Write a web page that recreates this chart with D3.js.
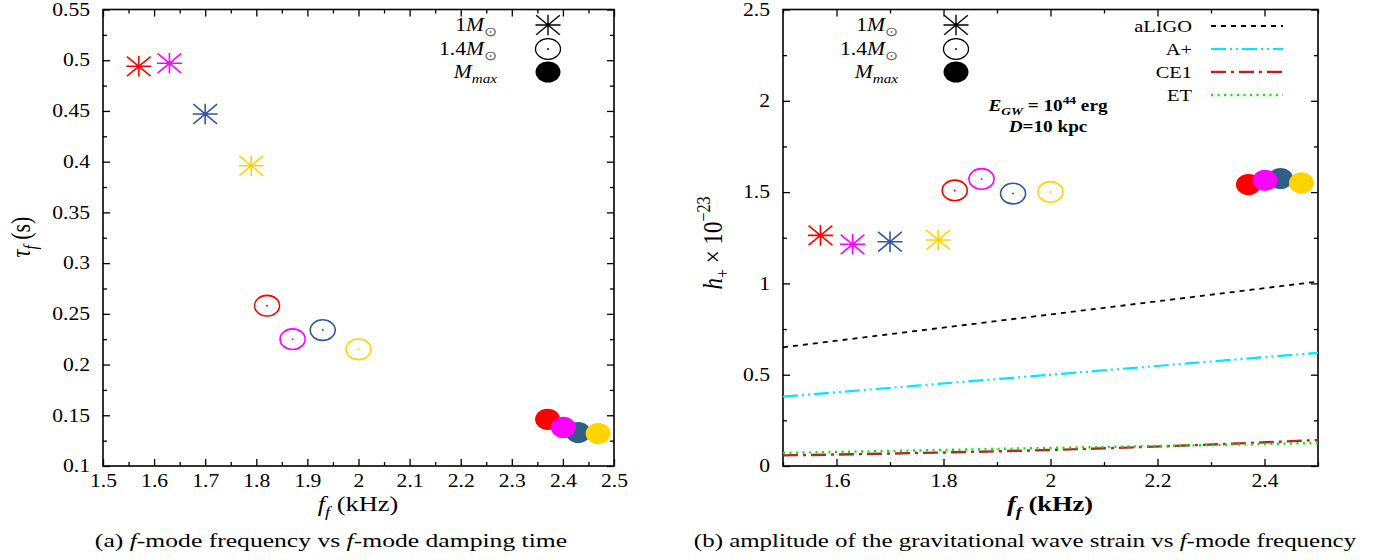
<!DOCTYPE html>
<html>
<head>
<meta charset="utf-8">
<script src="https://cdn.jsdelivr.net/npm/d3@7"></script>
<style>
  body { margin: 0; background: #fff; }
  svg { display: block; }
  text { font-family: "Liberation Serif", "Times New Roman", serif; fill: #000; }
</style>
</head>
<body>
<svg id="fig" width="1395" height="560"></svg>
<script>
// ---- data ---------------------------------------------------------------
// one entry per equation of state (same order in every array)
const eosStroke = ["#ff0000", "#ff00ff", "#3556a5", "#ffd400"];
const eosFill   = ["#ff0000", "#ff00ff", "#2f5f82", "#ffd400"];

// f-mode frequency (kHz) for 1 Msun, 1.4 Msun and maximum-mass stars
const freq1   = [1.570, 1.630, 1.700, 1.790];
const freq14  = [1.821, 1.871, 1.930, 2.000];
const freqMax = [2.370, 2.401, 2.430, 2.469];

// damping time (s)
const tau1   = [0.494, 0.497, 0.447, 0.396];
const tau14  = [0.258, 0.225, 0.234, 0.215];
const tauMax = [0.146, 0.138, 0.133, 0.132];

// strain amplitude (x 1e-23)
const h1   = [1.263, 1.214, 1.228, 1.238];
const h14  = [1.509, 1.572, 1.492, 1.501];
const hMax = [1.541, 1.565, 1.574, 1.550];

// detector sensitivity curves (x 1e-23)
const detFreq = [1.5, 1.75, 2.0, 2.25, 2.5];
const aLIGO   = [0.650, 0.740, 0.830, 0.920, 1.010];
const aPlus   = [0.380, 0.440, 0.500, 0.560, 0.620];
const ce1     = [0.058, 0.071, 0.088, 0.112, 0.142];
const et      = [0.072, 0.085, 0.099, 0.112, 0.126];

// tick values
const tauXTicks = [1.5, 1.6, 1.7, 1.8, 1.9, 2.0, 2.1, 2.2, 2.3, 2.4, 2.5];
const tauYTicks = [0.1, 0.15, 0.2, 0.25, 0.3, 0.35, 0.4, 0.45, 0.5, 0.55];
const hXTicks = [1.6, 1.8, 2.0, 2.2, 2.4];
const hYTicks = [0, 0.5, 1, 1.5, 2, 2.5];

// ---- helpers ------------------------------------------------------------
const SX = 1.2;             // horizontal text stretch of the figure
const RX = 12.5, RY = 10.3; // marker half width / half height
const svg = d3.select("#fig");

function rich(parent, x, y, size, parts, anchor = "start", rotate = false) {
  const t = parent.append("text")
    .attr("font-size", size)
    .attr("text-anchor", anchor)
    .attr("transform", rotate
      ? `translate(${x},${y}) rotate(-90) scale(1,${SX})`
      : `translate(${x},${y}) scale(${SX},1)`);
  let shift = 0;
  parts.forEach(p => {
    const target = p.sub ? size * 0.25 : p.sup ? -size * 0.42 : 0;
    const ts = t.append("tspan").text(p.t).attr("dy", target - shift);
    shift = target;
    if (p.sub || p.sup) ts.attr("font-size", size * 0.7);
    if (p.i) ts.attr("font-style", "italic");
    if (p.b) ts.attr("font-weight", "bold");
    if (p.fill) ts.style("fill", p.fill);
  });
  return t;
}

function fitWidth(sel, width) {
  const w = sel.node().getComputedTextLength();
  const m = /translate\(([^)]+)\)/.exec(sel.attr("transform"));
  sel.attr("transform", `translate(${m[1]}) scale(${width / w},1)`);
}

function starPath(cx, cy) {
  const d = 0.95;
  return `M${cx - RX},${cy}H${cx + RX}M${cx},${cy - RY}V${cy + RY}` +
         `M${cx - RX * d},${cy - RY * d}L${cx + RX * d},${cy + RY * d}` +
         `M${cx - RX * d},${cy + RY * d}L${cx + RX * d},${cy - RY * d}`;
}

function minorBetween(values, step) {
  const out = [];
  for (let i = 0; i < values.length - 1; i++) {
    for (let v = values[i] + step; v < values[i + 1] - step / 2; v += step) out.push(+v.toFixed(4));
  }
  return out;
}

function frame(g, x, y, xMajor, xMinor, yMajor, yMinor, xFmt, yFmt) {
  const [xl, xr] = x.range();
  const [yb, yt] = y.range();
  const majorLen = 7, minorLen = 4;
  const axes = [
    [d3.axisBottom, yb, x, xMajor, xMinor, true, "x"],
    [d3.axisTop,    yt, x, xMajor, xMinor, false, "x"],
    [d3.axisLeft,   xl, y, yMajor, yMinor, true, "y"],
    [d3.axisRight,  xr, y, yMajor, yMinor, false, "y"]
  ];
  axes.forEach(([make, pos, sc, major, minor, labelled, dir]) => {
    const tr = dir === "x" ? `translate(0,${pos})` : `translate(${pos},0)`;
    const fmt = labelled ? (dir === "x" ? xFmt : yFmt) : () => "";
    const ga = g.append("g").attr("transform", tr)
      .call(make(sc).tickValues(major).tickSizeInner(-majorLen).tickSizeOuter(0)
        .tickPadding(dir === "x" ? 8 : 13).tickFormat(fmt));
    ga.select(".domain").remove();
    ga.selectAll(".tick line").attr("stroke", "#000").attr("stroke-width", 1.3);
    ga.selectAll(".tick text")
      .attr("font-size", 18)
      .attr("font-family", "Liberation Serif, serif")
      .attr("fill", "#000")
      .each(function () {
        const xa = this.getAttribute("x");
        if (xa !== null) this.setAttribute("x", +xa / SX);
      })
      .attr("transform", `scale(${SX},1)`);
    const gm = g.append("g").attr("transform", tr)
      .call(make(sc).tickValues(minor).tickSizeInner(-minorLen).tickSizeOuter(0).tickFormat(() => ""));
    gm.select(".domain").remove();
    gm.selectAll(".tick line").attr("stroke", "#000").attr("stroke-width", 1.3);
  });
  g.append("rect")
    .attr("x", xl).attr("y", yt).attr("width", xr - xl).attr("height", yb - yt)
    .attr("fill", "none").attr("stroke", "#000").attr("stroke-width", 1.6);
}

function drawMarkers(g, x, y, f1, v1, f14, v14, fMax, vMax) {
  const idx = d3.range(f1.length);
  // 1 Msun : asterisks
  g.append("g").selectAll("path").data(idx).join("path")
    .attr("d", i => starPath(x(f1[i]), y(v1[i])))
    .attr("stroke", i => eosStroke[i]).attr("stroke-width", 1.6).attr("fill", "none");
  // 1.4 Msun : open circles with a centre dot
  const c = g.append("g").selectAll("g").data(idx).join("g");
  c.append("ellipse")
    .attr("cx", i => x(f14[i])).attr("cy", i => y(v14[i]))
    .attr("rx", RX).attr("ry", RY)
    .attr("fill", "none").attr("stroke", i => eosStroke[i]).attr("stroke-width", 1.6);
  c.append("circle")
    .attr("cx", i => x(f14[i])).attr("cy", i => y(v14[i])).attr("r", 1)
    .attr("fill", i => eosStroke[i]);
  // maximum mass : filled discs (third model drawn underneath)
  g.append("g").selectAll("ellipse").data([2, 0, 1, 3]).join("ellipse")
    .attr("cx", i => x(fMax[i])).attr("cy", i => y(vMax[i]))
    .attr("rx", RX).attr("ry", RY + 0.3)
    .attr("fill", i => eosFill[i]);
}

function massLegend(g, labelX, markX, rows) {
  rich(g, labelX, rows[0] + 6, 18, [{ t: "1" }, { t: "M", i: true }, { t: "⊙", sub: true, fill: "#555" }], "end");
  rich(g, labelX, rows[1] + 6, 18, [{ t: "1.4" }, { t: "M", i: true }, { t: "⊙", sub: true, fill: "#555" }], "end");
  rich(g, labelX, rows[2] + 6, 18, [{ t: "M", i: true }, { t: "max", i: true, sub: true }], "end");
  g.append("path").attr("d", starPath(markX, rows[0]))
    .attr("stroke", "#000").attr("stroke-width", 1.4).attr("fill", "none");
  g.append("ellipse").attr("cx", markX).attr("cy", rows[1]).attr("rx", RX).attr("ry", RY)
    .attr("fill", "none").attr("stroke", "#000").attr("stroke-width", 1.3);
  g.append("circle").attr("cx", markX).attr("cy", rows[1]).attr("r", 0.9).attr("fill", "#000");
  g.append("ellipse").attr("cx", markX).attr("cy", rows[2]).attr("rx", RX).attr("ry", RY + 0.3)
    .attr("fill", "#000");
}

// ---- (a) damping time vs frequency ---------------------------------------
const ga = svg.append("g");
const xA = d3.scaleLinear().domain([1.5, 2.5]).range([103, 614]);
const yA = d3.scaleLinear().domain([0.1, 0.55]).range([466, 9.5]);
frame(ga, xA, yA, tauXTicks, minorBetween(tauXTicks, 0.05), tauYTicks, minorBetween(tauYTicks, 0.025),
      d => d3.format("")(+d.toFixed(2)), d => d3.format("")(+d.toFixed(2)));
drawMarkers(ga, xA, yA, freq1, tau1, freq14, tau14, freqMax, tauMax);
massLegend(ga, 497, 548, [25, 49, 72]);

rich(ga, 30, 237, 22, [{ t: "τ", i: true }, { t: "f", i: true, sub: true }, { t: " (s)" }], "middle", true);
rich(ga, 358, 511, 22, [{ t: "f", i: true }, { t: "f", i: true, sub: true }, { t: " (kHz)" }], "middle");
fitWidth(rich(ga, 331, 547, 19,
  [{ t: "(a) " }, { t: "f", i: true }, { t: "-mode frequency vs " }, { t: "f", i: true }, { t: "-mode damping time" }],
  "middle"), 472);

// ---- (b) strain amplitude vs frequency -----------------------------------
const gb = svg.append("g");
const xB = d3.scaleLinear().domain([1.5, 2.5]).range([783, 1318]);
const yB = d3.scaleLinear().domain([0, 2.5]).range([466, 9.5]);
frame(gb, xB, yB, hXTicks, [1.5, 1.7, 1.9, 2.1, 2.3, 2.5], hYTicks, [0.25, 0.75, 1.25, 1.75, 2.25],
      d => d3.format("")(+d.toFixed(1)), d => d3.format("")(+d.toFixed(1)));

const detectors = [
  { name: "aLIGO", vals: aLIGO, color: "#000000", dash: "5,5",             width: 1.8 },
  { name: "A+",    vals: aPlus, color: "#00e8ff", dash: "15,4,2,4,2,4",    width: 2.2 },
  { name: "CE1",   vals: ce1,   color: "#b02828", dash: "15,5,3,5",        width: 2.4 },
  { name: "ET",    vals: et,    color: "#00ee00", dash: "2,4.5",           width: 2.4 }
];
const line = d3.line().x(d => xB(d[0])).y(d => yB(d[1])).curve(d3.curveMonotoneX);
gb.append("clipPath").attr("id", "clipB").append("rect")
  .attr("x", 783).attr("y", 9.5).attr("width", 535).attr("height", 456.5);
gb.append("g").attr("clip-path", "url(#clipB)").selectAll("path").data(detectors).join("path")
  .attr("d", d => line(detFreq.map((f, i) => [f, d.vals[i]])))
  .attr("fill", "none").attr("stroke", d => d.color).attr("stroke-width", d => d.width)
  .attr("stroke-dasharray", d => d.dash);

drawMarkers(gb, xB, yB, freq1, h1, freq14, h14, freqMax, hMax);
massLegend(gb, 898, 956, [25, 49, 72]);

// detector legend
const legY = [26, 49, 72, 95];
detectors.forEach((d, i) => {
  rich(gb, 1192, legY[i] + 6, 17, [{ t: d.name }], "end");
  gb.append("line").attr("x1", 1211).attr("x2", 1283).attr("y1", legY[i]).attr("y2", legY[i])
    .attr("stroke", d.color).attr("stroke-width", d.width).attr("stroke-dasharray", d.dash);
});

// source parameters
rich(gb, 1048, 111, 16, [
  { t: "E", i: true, b: true }, { t: "GW", i: true, b: true, sub: true },
  { t: " = 10", b: true }, { t: "44", b: true, sup: true }, { t: " erg", b: true }
], "middle");
rich(gb, 1048, 132, 16, [{ t: "D", i: true, b: true }, { t: "=10 kpc", b: true }], "middle");

rich(gb, 722, 243, 23, [
  { t: "h", i: true }, { t: "+", sub: true }, { t: " × 10" }, { t: "−23", sup: true }
], "middle", true);
rich(gb, 1050, 511, 22, [
  { t: "f", i: true, b: true }, { t: "f", i: true, b: true, sub: true }, { t: " (kHz)", b: true }
], "middle");
fitWidth(rich(gb, 1025, 547, 19,
  [{ t: "(b) amplitude of the gravitational wave strain vs " }, { t: "f", i: true }, { t: "-mode frequency" }],
  "middle"), 662);
</script>
</body>
</html>
